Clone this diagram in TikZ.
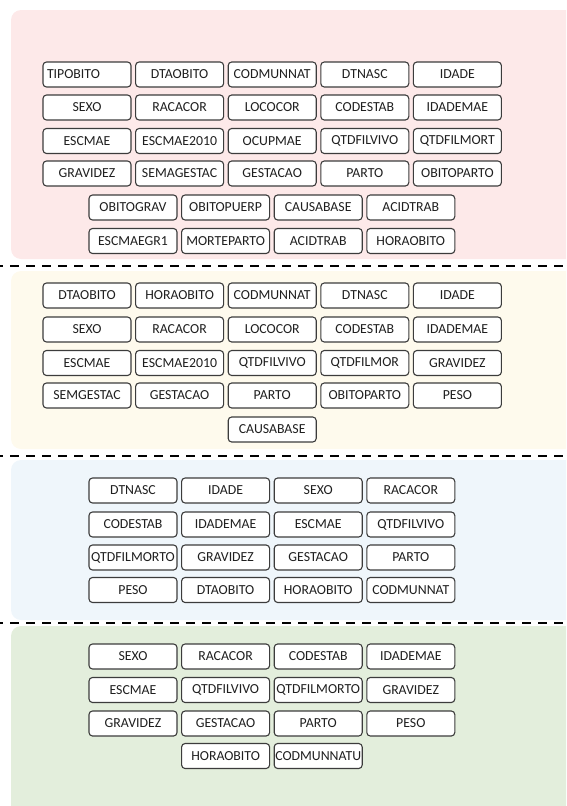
\documentclass[tikz,border=0pt]{standalone}
\usepackage{fontspec}
\setmainfont{Carlito}
\definecolor{pinkbg}{RGB}{253,233,233}
\definecolor{yellowbg}{RGB}{254,250,237}
\definecolor{bluebg}{RGB}{239,246,251}
\definecolor{greenbg}{RGB}{227,238,220}
\definecolor{boxline}{RGB}{60,60,60}
\newcommand\boxrow[4]{%
  \foreach \t [count=\i from 0] in {#4} {
    \node[varbox] (#1\i) at ({#3+92.6*\i},#2) {\t};
  }%
}
\begin{document}
\begin{tikzpicture}[x=1pt,y=-1pt,
  varbox/.style={draw=boxline, line width=1.1pt, rounded corners=3.5pt, fill=white,
    minimum width=88pt, minimum height=25pt, inner sep=0pt,
    font=\fontsize{13.8}{14}\selectfont, text=black!88},
  panel/.style={rounded corners=10pt},
  sepline/.style={line width=2.8pt, dash pattern=on 9pt off 7pt, dash phase=6pt}]
\useasboundingbox (0,0) rectangle (566,806);
\begin{scope}
\clip (0,0) rectangle (566,806);
\fill[pinkbg, panel] (11,10) rectangle (590,259);
\fill[yellowbg, panel] (11,271) rectangle (590,449);
\fill[bluebg, panel] (11,460) rectangle (590,620);
\fill[greenbg, panel] (11,626) rectangle (590,830);
\draw[sepline] (0,266) -- (566,266);
\draw[sepline] (0,456) -- (566,456);
\draw[sepline] (0,623) -- (566,623);
\end{scope}
% panel 1
\node[varbox, text width=80pt, align=left] (pa0) at (87,74.5) {TIPOBITO};
\foreach \t [count=\i from 1] in {DTAOBITO,CODMUNNAT,DTNASC,IDADE} {
  \node[varbox] (pa\i) at ({87+92.6*\i},74.5) {\t};
}
\boxrow{pb}{107.5}{87}{SEXO,RACACOR,LOCOCOR,CODESTAB,IDADEMAE}
\boxrow{pc}{141}{87}{ESCMAE,ESCMAE2010,OCUPMAE,QTDFILVIVO,QTDFILMORT}
\boxrow{pd}{173.5}{87}{GRAVIDEZ,SEMAGESTAC,GESTACAO,PARTO,OBITOPARTO}
\boxrow{pe}{207.5}{133}{OBITOGRAV,OBITOPUERP,CAUSABASE,ACIDTRAB}
\boxrow{pf}{241}{133}{ESCMAEGR1,MORTEPARTO,ACIDTRAB,HORAOBITO}
% panel 2
\boxrow{qa}{295.5}{87}{DTAOBITO,HORAOBITO,CODMUNNAT,DTNASC,IDADE}
\boxrow{qb}{329.5}{87}{SEXO,RACACOR,LOCOCOR,CODESTAB,IDADEMAE}
\boxrow{qc}{363}{87}{ESCMAE,ESCMAE2010,QTDFILVIVO,QTDFILMOR,GRAVIDEZ}
\boxrow{qd}{395.5}{87}{SEMGESTAC,GESTACAO,PARTO,OBITOPARTO,PESO}
\boxrow{qe}{429.5}{272.2}{CAUSABASE}
% panel 3
\boxrow{ra}{490.5}{133}{DTNASC,IDADE,SEXO,RACACOR}
\boxrow{rb}{524.5}{133}{CODESTAB,IDADEMAE,ESCMAE,QTDFILVIVO}
\boxrow{rc}{557.5}{133}{QTDFILMORTO,GRAVIDEZ,GESTACAO,PARTO}
\boxrow{rd}{590}{133}{PESO,DTAOBITO,HORAOBITO,CODMUNNAT}
% panel 4
\boxrow{sa}{656.5}{133}{SEXO,RACACOR,CODESTAB,IDADEMAE}
\boxrow{sb}{690}{133}{ESCMAE,QTDFILVIVO,QTDFILMORTO,GRAVIDEZ}
\boxrow{sc}{723.5}{133}{GRAVIDEZ,GESTACAO,PARTO,PESO}
\boxrow{sd}{756}{225.6}{HORAOBITO,CODMUNNATU}
\end{tikzpicture}
\end{document}
